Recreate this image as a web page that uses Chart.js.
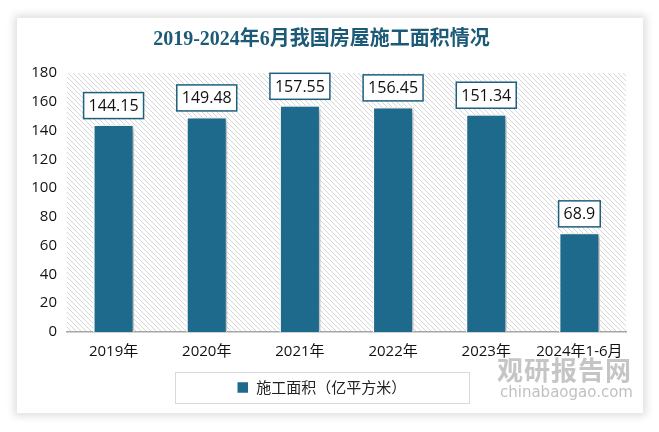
<!DOCTYPE html>
<html>
<head>
<meta charset="utf-8">
<script src="https://cdn.jsdelivr.net/npm/chart.js@4"></script>
<style>
  html, body { margin: 0; padding: 0; background: #fff; }
  #wrap { position: relative; width: 659px; height: 432px; overflow: hidden; }
  #card { position: absolute; left: 17px; top: 18px; width: 626px; height: 395px; background: #fff;
          box-shadow: 0 0 8px 3px rgba(0,0,0,0.13); }
  canvas { position: absolute; left: 0; top: 0; }
  .wm1 { position: absolute; left: 497px; top: 350px; font: bold 26px "Noto Sans CJK SC"; color: rgba(150,150,150,0.55); letter-spacing: 1px; }
  .wm2 { position: absolute; left: 500px; top: 383px; font: 15px "DejaVu Sans"; color: rgba(150,150,150,0.6); }
</style>
</head>
<body>
<div id="wrap">
  <div id="card"></div>
  <canvas id="chart" width="659" height="432"></canvas>
  <div class="wm1">观研报告网</div>
  <div class="wm2">chinabaogao.com</div>
</div>
<script>
const categories = ['2019年', '2020年', '2021年', '2022年', '2023年', '2024年1-6月'];
const values = [144.15, 149.48, 157.55, 156.45, 151.34, 68.9];
const seriesName = '施工面积（亿平方米）';
const yTicks = [0, 20, 40, 60, 80, 100, 120, 140, 160, 180];

const barColor = '#1e6a8d';
const boxColor = '#1d5f7e';

// hatched background inside the plot
const hatchPlugin = {
  id: 'hatch',
  beforeDraw(chart) {
    const a = chart.chartArea;
    const p = document.createElement('canvas');
    p.width = 5; p.height = 5;
    const pc = p.getContext('2d');
    pc.fillStyle = '#ffffff';
    pc.fillRect(0, 0, 5, 5);
    pc.strokeStyle = '#d6d6d6';
    pc.lineWidth = 1;
    pc.beginPath();
    pc.moveTo(-1, -1); pc.lineTo(6, 6);
    pc.moveTo(-1, 4); pc.lineTo(1, 6);
    pc.moveTo(4, -1); pc.lineTo(6, 1);
    pc.stroke();
    const ctx = chart.ctx;
    ctx.save();
    ctx.fillStyle = ctx.createPattern(p, 'repeat');
    ctx.fillRect(a.left, a.top, a.right - a.left, a.bottom - a.top);
    ctx.restore();
  },
  beforeDatasetsDraw(chart) {
    const ctx = chart.ctx;
    ctx.save();
    ctx.shadowColor = 'rgba(0,0,0,0.28)';
    ctx.shadowBlur = 6;
    ctx.shadowOffsetX = 4;
    ctx.shadowOffsetY = 2;
  },
  afterDatasetsDraw(chart) {
    chart.ctx.restore();
    // value labels in boxes
    const ctx = chart.ctx;
    const meta = chart.getDatasetMeta(0);
    ctx.save();
    ctx.font = '16px "Open Sans", "DejaVu Sans", sans-serif';
    ctx.textAlign = 'center';
    ctx.textBaseline = 'middle';
    meta.data.forEach((bar, i) => {
      const txt = String(values[i]);
      const w = ctx.measureText(txt).width + 10;
      const h = 26;
      const x = bar.x - w / 2;
      const y = bar.y - 6 - h;
      ctx.fillStyle = '#fff';
      ctx.fillRect(x, y, w, h);
      ctx.strokeStyle = boxColor;
      ctx.lineWidth = 1.5;
      ctx.strokeRect(x, y, w, h);
      ctx.fillStyle = '#111';
      ctx.fillText(txt, bar.x, y + h / 2 + 1);
    });
    ctx.restore();
  },
  afterDraw(chart) {
    // frame round the legend
    const lg = chart.legend;
    const cx = (lg.left + lg.right) / 2;
    const ctx = chart.ctx;
    ctx.save();
    ctx.strokeStyle = '#d9d9d9';
    ctx.lineWidth = 1;
    ctx.strokeRect(Math.round(cx - 147) + 0.5, 372.5, 294, 31);
    ctx.restore();
  }
};

new Chart(document.getElementById('chart'), {
  type: 'bar',
  data: {
    labels: categories,
    datasets: [{
      label: seriesName,
      data: values,
      backgroundColor: barColor,
      borderColor: '#ffffff',
      borderWidth: 1.5,
      borderSkipped: 'bottom',
      categoryPercentage: 1,
      barPercentage: 0.44
    }]
  },
  options: {
    responsive: false,
    animation: false,
    layout: { padding: { left: 17, right: 33, top: 18, bottom: 27 } },
    plugins: {
      title: {
        display: true,
        text: '2019-2024年6月我国房屋施工面积情况',
        color: '#1d5a78',
        font: { family: '"Liberation Serif", "Noto Sans CJK SC", serif', size: 20, weight: 'bold' },
        padding: { top: 10, bottom: 21 }
      },
      legend: {
        position: 'bottom',
        labels: {
          color: '#222',
          font: { family: '"Noto Sans CJK SC", sans-serif', size: 15 },
          boxWidth: 12,
          boxHeight: 12,
          padding: 10
        }
      },
      tooltip: { enabled: false }
    },
    scales: {
      x: {
        grid: { display: false, drawTicks: false },
        border: { display: true, color: '#a6a6a6', width: 1.5 },
        ticks: {
          color: '#111',
          font: { family: '"Open Sans", "Noto Sans CJK SC", sans-serif', size: 15 },
          padding: 11,
          maxRotation: 0,
          autoSkip: false
        },
        afterFit(s) { s.height = 38; }
      },
      y: {
        min: 0,
        max: 180,
        afterBuildTicks(s) { s.ticks = yTicks.map(v => ({ value: v })); },
        grid: { display: false, drawTicks: false },
        border: { display: false },
        ticks: {
          color: '#111',
          font: { family: '"Open Sans", "DejaVu Sans", sans-serif', size: 15 },
          padding: 10
        },
        afterFit(s) { s.width = 50; }
      }
    }
  },
  plugins: [hatchPlugin]
});
</script>
</body>
</html>
